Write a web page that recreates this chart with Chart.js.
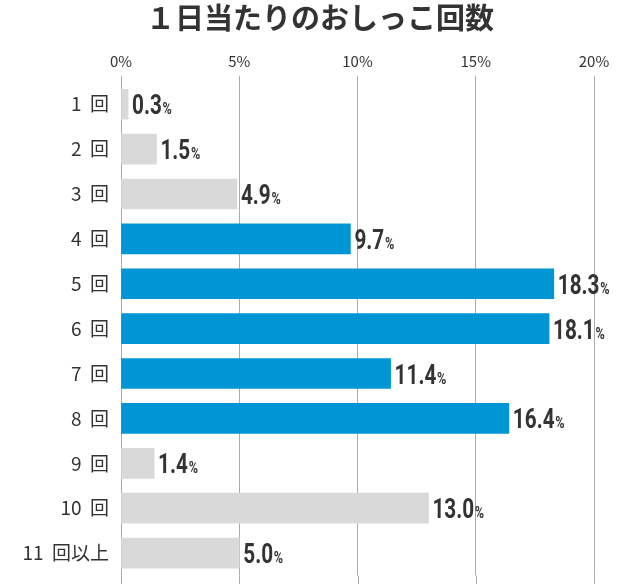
<!DOCTYPE html>
<html lang="ja">
<head>
<meta charset="utf-8">
<script src="https://cdn.jsdelivr.net/npm/chart.js@4.4.1/dist/chart.umd.min.js"></script>
<style>
  html, body { margin: 0; padding: 0; background: #fff; }
  #wrap { width: 640px; height: 584px; }
</style>
</head>
<body>
<div id="wrap"><canvas id="countChart"></canvas></div>
<script>
const categories = ["1  回", "2  回", "3  回", "4  回", "5  回", "6  回", "7  回", "8  回", "9  回", "10  回", "11  回以上"];
const shares = [0.3, 1.5, 4.9, 9.7, 18.3, 18.1, 11.4, 16.4, 1.4, 13.0, 5.0];
const highlighted = [false, false, false, true, true, true, true, true, false, false, false];
const tickValues = [0, 5, 10, 15, 20];

const GRAY = "#d9d9d9";
const BLUE = "#0096d6";
const GRID = "#ababab";

// extend vertical grid lines down to the bottom edge
const gridToBottom = {
  id: "gridToBottom",
  beforeDatasetsDraw(chart) {
    const { ctx, chartArea, scales } = chart;
    ctx.save();
    ctx.strokeStyle = GRID;
    ctx.lineWidth = 1;
    tickValues.forEach(function (v) {
      const x = Math.round(scales.x.getPixelForValue(v)) + 0.5;
      ctx.beginPath();
      ctx.moveTo(x, chartArea.bottom);
      ctx.lineTo(x, chart.height);
      ctx.stroke();
    });
    ctx.restore();
  },
};

// value labels: condensed bold number + small %
const valueLabels = {
  id: "valueLabels",
  afterDatasetsDraw(chart) {
    const ctx = chart.ctx;
    const meta = chart.getDatasetMeta(0);
    const squeeze = 0.74;
    ctx.save();
    ctx.fillStyle = "#333";
    ctx.textBaseline = "alphabetic";
    meta.data.forEach(function (bar, i) {
      const num = shares[i].toFixed(1);
      const x = bar.x + 4;
      const y = bar.y + 10;
      ctx.save();
      ctx.translate(x, y);
      ctx.scale(squeeze, 1);
      ctx.font = "bold 28px Roboto";
      ctx.fillText(num, 0, 0);
      const w = ctx.measureText(num).width;
      ctx.font = "bold 17px Roboto";
      ctx.fillText("%", w + 1, 0);
      ctx.restore();
    });
    ctx.restore();
  },
};

const chart = new Chart(document.getElementById("countChart"), {
  type: "bar",
  data: {
    labels: categories,
    datasets: [
      {
        data: shares,
        backgroundColor: highlighted.map(function (h) { return h ? BLUE : GRAY; }),
        borderWidth: 0,
        barThickness: 30,
      },
    ],
  },
  options: {
    indexAxis: "y",
    responsive: true,
    maintainAspectRatio: false,
    animation: false,
    layout: {
      padding: { left: 0, right: 0, top: 0, bottom: 8.5 },
    },
    scales: {
      x: {
        position: "top",
        min: 0,
        max: 20,
        afterBuildTicks: function (scale) {
          scale.ticks = tickValues.map(function (v) { return { value: v }; });
        },
        afterFit: function (scale) {
          scale.height = 41;
          scale.paddingRight = 46;
        },
        ticks: {
          padding: 6,
          color: "#333",
          font: { family: "'Noto Sans CJK JP'", size: 15 },
          callback: function (value) {
            return value + "%";
          },
        },
        grid: {
          color: GRID,
          drawTicks: true,
          tickLength: 6,
        },
        border: {
          display: false,
        },
      },
      y: {
        afterFit: function (scale) {
          scale.width = 121;
          scale.paddingTop = 0;
          scale.paddingBottom = 0;
        },
        ticks: {
          padding: 12,
          color: "#333",
          font: { family: "'Noto Sans CJK JP'", size: 19 },
        },
        grid: {
          display: false,
          drawTicks: false,
        },
        border: {
          display: false,
        },
      },
    },
    plugins: {
      legend: {
        display: false,
      },
      tooltip: {
        enabled: false,
      },
      title: {
        display: true,
        text: "１日当たりのおしっこ回数",
        color: "#333",
        font: { family: "'Noto Sans CJK JP'", size: 29, weight: "bold" },
        padding: { top: 1, bottom: 5 },
      },
    },
  },
  plugins: [gridToBottom, valueLabels],
});
</script>
</body>
</html>
